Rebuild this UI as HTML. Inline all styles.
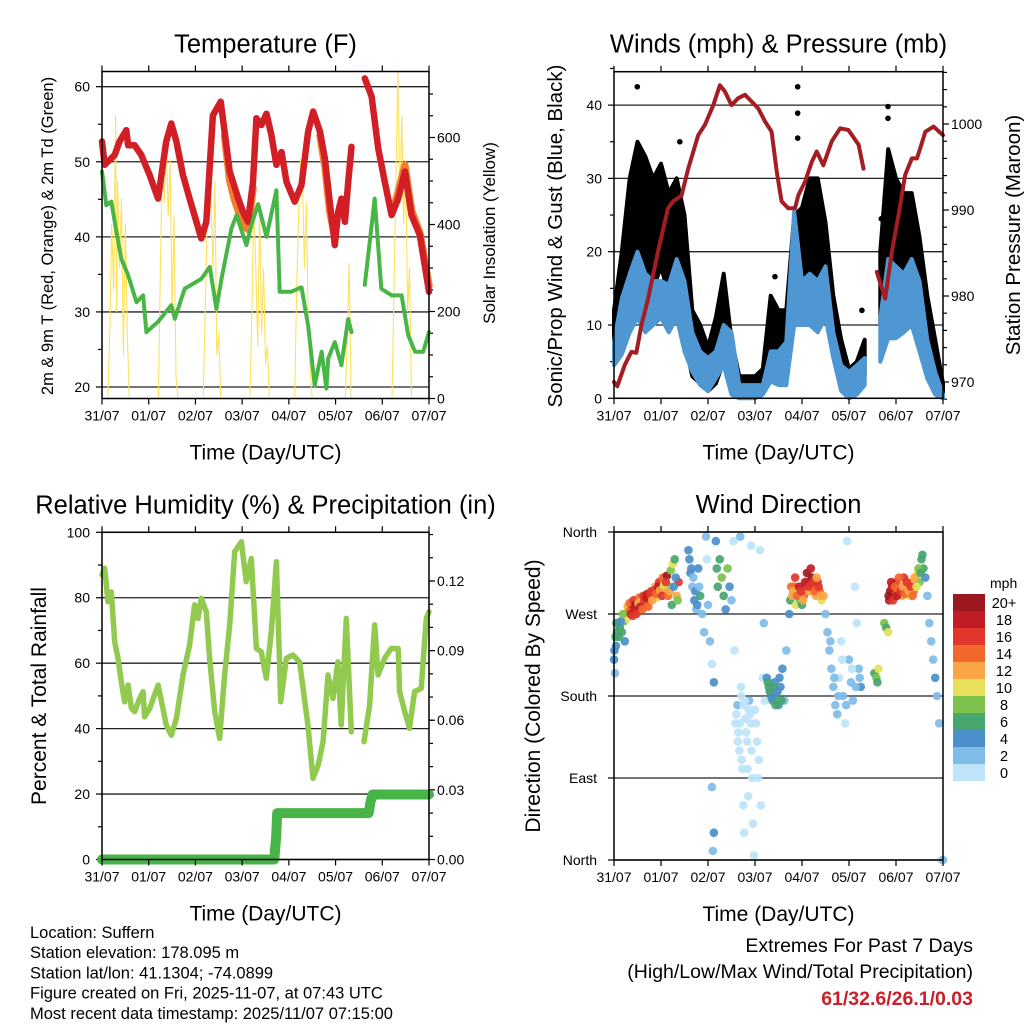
<!DOCTYPE html>
<html><head><meta charset="utf-8">
<style>
html,body{margin:0;padding:0;background:#fff;}
svg{display:block;font-family:"Liberation Sans",sans-serif;}
</style></head>
<body>
<svg id="fig" width="1024" height="1024" viewBox="0 0 1024 1024" xmlns="http://www.w3.org/2000/svg"></svg>
<script>
// ---------- DATA ----------
const dayLabels=["31/07","01/07","02/07","03/07","04/07","05/07","06/07","07/07"];
const t2Hours=[0,1.4,6.5,9,12.5,13.4,16.8,20.2,24.5,28.8,33,35.6,38.2,41.6,45,48.5,51,53.6,57,61,63,65.6,70,72.5,75,77.6,79.3,81.9,84.5,87,89.6,92.2,94.8,99,102.5,105.9,108.5,112,114.5,117,119.6,121.3,123,124.8,126.5,128.2,null,135,138.5,141.9,145.3,148.8,152.2,155.6,159,163.3,168];
const t2Vals=[52.7,49.6,50.9,52.7,54.2,52.2,52.2,50.9,48.2,45.1,52.7,55.1,52.7,48.2,45.1,42,39.8,42,56.2,58,54,48.7,45.1,43.3,42,47.3,55.8,54.9,56.4,53.6,49.6,51.3,47.3,44.7,46.9,54,56.7,54,50.4,44.7,38.9,43.3,45.1,42,47.3,52,null,61.1,58.7,51.8,47.3,42.9,45.1,48.7,42.9,40.2,32.7];
const t9Hours=[63,65.6,68,70,72.5,75,77.6,null,112,114.5,117,119.6,null,150,152.2,155.6,159,163.3,168];
const t9Vals=[53.5,47.5,45,43.5,41.5,41,46.5,null,53.5,49.5,43.5,40,null,44,46,49.5,43.5,40.5,33.5];
const tdHours=[0,2.2,4.8,7.4,9.9,13.4,17.7,21.1,22.8,28.8,35.6,37.4,42.5,51,55.4,58.8,61.4,66.5,69.1,74.2,76.8,80.2,84.5,89.6,91.3,97.3,102.5,105.9,109.3,112.8,115.3,116.2,119.6,123,126.5,128.2,null,135,140.1,143.5,148.8,153.9,157.3,160.8,165,168];
const tdVals=[48.7,44.2,44.7,40.7,37.1,34.9,31.3,32.2,27.3,28.7,30.9,29.1,33.1,34.4,36,30.4,34.4,41.1,42.9,38.9,41.6,44.4,40,46.2,32.7,32.7,33.3,28.2,20.2,24.7,19.8,23.8,26,22.9,29.1,27.3,null,33.6,45.1,33.1,32.2,32.2,26.9,24.7,24.7,27.3];
const solHours=[3,4,5,6,7,7.5,8,9,10,11,12,13,14,29,30,31,32,33,34,35,36,37,38,39,52,53,54,55,56,57,58,59,60,61,76,77,78,79,80,81,82,83,84,85,86,99,100,101,102,103,104,105,106,107,108,125,126,127,128,149,150,151,152,153,154,155,156,157,158,159];
const solVals=[0,150,400,250,650,200,500,300,460,100,400,150,0,0,300,550,450,590,420,550,200,420,50,0,0,200,400,535,450,300,500,100,150,0,0,200,450,300,120,430,150,300,80,120,0,0,250,420,550,500,300,450,150,60,0,0,150,310,0,0,250,500,750,450,650,400,550,200,300,0];
const windHours=[0,4,8,12,16,20,24,28,32,36,40,44,48,52,56,60,64,68,72,76,80,84,88,92,96,100,104,108,112,116,120,124,128,132,136,140,144,148,152,156,160,164,168];
const windLo=[4.5,6,9,11,9,10,11,9,11,6.4,3.6,1.8,1,2.7,4.5,0.5,0,0,0,0.5,2.3,1.8,1.8,10,10,10,9,11,5.5,1,0,0.5,1.8,null,5,8.2,8.2,9,10,6.4,2.7,0.5,0];
const windHi=[7.7,13.6,17,20,17,16,16,15.5,19,16,9,6.4,5.5,6.4,10,9,1.8,1.8,1.8,1.8,6.4,6.4,7.7,25.5,16,17,16,18,9,4.5,3.6,4.5,5.5,null,11,19,18,17,19,16,8,3.6,0.5];
const gustLo=[5,10,15,16,15,15,18,14,12,8,3,2,1,2,5,2,1,1,1,1,4,4,4,12,14,15,14,12,7,2,1,2,3,null,10,16,16,15,14,10,6,2,0];
const gustHi=[12,20,30,35,33,30,32,28,30,25,12,10,7,11,17,8,3,3,3,4,14,12,12,25,26,30,30,24,14,8,4,5,8,null,20,34,30,28,28,22,14,8,2];
const gustOutHours=[11.9,93.8,93.8,93.8,139.9,139.9,126.6,82.2,136.5,33.6];
const gustOutVals=[42.5,42.5,38.9,35.5,39.8,38.2,12,16.6,24.5,35];
const presHours=[0,1.7,5.5,8.9,11.4,14,17.4,22.5,27.6,30.2,34.5,37.9,43,46.4,50.7,54.1,56.6,60,63.4,66.9,70.3,73.7,77.1,80.5,83.1,85.6,89,92.4,94.1,97.6,101,103.5,106.9,111.2,115.5,119.7,124.9,127.4,null,134.2,138.5,141.9,145.3,148.7,152.1,154.7,159,163.2,168];
const presVals=[970,969.5,972,973.5,973.4,976.6,979.7,985.2,990.2,991,991.7,994.8,998.7,999.9,1002.2,1004.5,1003.8,1002.2,1003,1003.4,1002.6,1001.8,1000.3,999.1,994.5,991,990.2,990.2,991.7,993.3,995.6,996.8,995.2,998,999.5,999.3,997.6,994.8,null,982.8,979.7,985.2,989.4,994.1,996,996,999.1,999.7,998.7];
const rhHours=[0,1.4,3.1,4.8,6.5,8.2,9.9,11.6,13.4,15.1,16.8,19.3,21.1,21.9,24.5,28.8,31.3,33,35.6,38.2,41.6,45,47.6,49.3,51,53.6,55.3,57.9,60.4,63,65.6,68.2,71.6,74.1,76.7,79.3,81.8,84.4,87,89.6,91.8,94.7,98.1,101.5,105.8,108.4,111,113.6,116.1,118.7,121.2,122.9,125.5,128.1,null,134.6,137.5,139.2,140.1,141.8,145.2,148.6,152.1,152.9,155.5,158,160.6,164,166.6,168];
const rhVals=[87,89,78.8,81.8,66.6,61.5,54.3,48.2,53.3,46.2,45.2,49.2,51.3,43.6,46.2,53.3,46.2,41.1,38,43.1,56.4,65.5,77.8,73.7,79.8,75.7,61.5,45.2,37,56.4,71.7,94.1,97.1,84.9,92,64.5,63.5,55.4,69.6,91,48.2,61.5,62.5,60.4,41.1,24.8,28.8,36,56.4,49.2,60.4,41.1,73.7,39,null,36,47.2,63.5,71.7,56.4,61.5,64.5,64.5,51.3,45.2,40.1,51.3,52.3,73.7,75.7];
const prHours=[0,88.5,89,89.5,90,132,137,138,139,168];
const prVals=[0,0,0.005,0.01,0.02,0.02,0.02,0.025,0.028,0.028];
const wdHours=[0,0.5,1,1.5,2,3,4,5,5.5,6,7,8,9,10,11,12,13,14,15,16,17,18,19,20,21,22,23,24,25,26,27,28,29,30,31,32,33,38,39,40,41,42,43,44,45,46,47,47.5,48,49,50,51,52,52.5,53,54,55,56,57,58,59,60,61,61.5,62,63,63.5,64,65,65.5,66,66.5,67,68,68.5,69,70,70.5,71,71.5,72,73,74,75,76,76.5,77,64.5,70,74.5,50.5,51,50,78,79,80,81,82,83,84,85,86,87,88,89.5,90,91,92,93,94,95,96,97,98,99,100,101,102,103,104,105,106,107,108,109,110,111,112,113,114,115,116,117,118,119,120,121,122,123,124,125,126,133,134,134.5,135,138,139,140,140.5,141,142,143,144,145,146,147,148,149,150,151,152,153,154,155,156,157,158,159,160,161,162,163,164,165,166,167,168,
6.5,7.5,8.5,9.5,10.5,11.5,12.5,13.5,14.5,15.5,16.5,17.5,18.5,19.5,20.5,21.5,22.5,23.5,24.5,25.5,26.5,27.5,28.5,29.5,30.5,31.5,32.5,0.2,0.8,1.2,2.5,3.5,4.5,
90.5,91.5,92.5,93.5,94.5,95.5,96.5,97.5,98.5,99.5,100.5,101.5,102.5,103.5,104.5,105.5,
140.2,141.5,142.5,143.5,144.5,145.5,146.5,147.5,148.5,149.5,150.5,151.5,152.5,153.5,154.5,155.5,156.5,157.5,
78.5,79.5,80.5,81.5,82.5,83.5,84.5,85.5,
62.5,63.2,64.2,65.2,66.2,67.5,68.2,69.5,70.2,72.5,73.5,64.8,66.8,68.8,
38.5,39.5,40.5,41.5,42.5,43.5,110.5,112.5,114.5,116.5,118.5,121.5,123.5,125.5];
const wdDirs=[220,205,235,250,260,255,250,262,240,270,278,282,275,285,280,275,288,284,290,280,292,285,295,290,300,288,305,298,310,295,312,300,318,325,330,290,305,340,315,300,285,275,320,290,270,250,355,330,280,240,215,195,350,320,300,330,310,290,275,320,300,285,350,230,150,170,140,120,180,100,60,30,155,130,70,175,150,90,40,5,165,130,110,60,200,260,175,355,345,340,10,30,80,200,190,185,175,195,180,170,190,210,175,230,270,285,290,300,280,295,285,280,290,300,305,295,310,300,290,305,295,285,290,270,250,230,210,190,170,160,200,240,180,150,350,220,195,175,300,260,210,190,205,200,195,210,260,255,250,285,295,300,290,305,295,300,290,310,295,300,290,305,295,300,315,305,330,320,310,290,260,240,220,200,180,150,0,0,
265,272,270,268,276,270,282,278,275,285,288,278,292,285,296,292,300,296,290,302,305,290,295,280,300,310,285,230,245,260,245,262,270,
300,295,310,290,300,295,285,305,315,300,320,305,295,310,300,290,
290,305,285,300,290,310,295,300,292,305,295,300,290,310,300,320,315,335,
195,185,178,190,170,185,200,175,
160,130,150,110,170,140,100,160,120,150,90,190,175,165,
330,320,310,295,280,300,240,200,180,220,170,210,190,200];
const wdSpeeds=[4,3,5,6,6,7,6,8,4,10,12,14,17,16,20,15,14,13,16,12,18,14,16,18,12,10,16,19,14,12,20,9,8,10,7,13,17,4,5,3,4,3,5,6,3,3,2,1,2,3,1,4,5,6,7,6,8,7,5,9,4,3,1,1,0,2,1,0,1,1,0,1,1,0,1,2,1,0,1,0,1,1,0,1,1,2,1,2,1,1,3,4,3,5,6,4,6,5,7,4,5,4,3,2,4,6,12,15,10,11,8,6,14,16,18,13,20,15,12,17,14,10,12,3,3,2,3,2,2,3,1,1,2,1,1,2,3,2,1,1,2,4,7,8,7,10,8,7,10,18,20,19,16,17,15,14,13,16,12,14,11,13,15,12,10,8,6,7,4,3,2,3,2,4,3,2,1,2,
11,15,18,16,19,17,13,18,15,17,19,14,16,13,17,15,18,12,16,10,17,14,12,6,5,4,9,5,6,7,6,5,8,
14,13,17,15,19,16,12,18,20,16,19,17,14,12,16,13,
20,18,17,15,18,14,16,12,15,17,13,16,14,12,11,8,7,6,
6,7,5,6,7,4,5,6,
1,0,1,1,0,1,0,1,1,0,1,1,1,0,
4,5,3,4,5,3,2,3,2,1,2,1,3,3];
const cbLabels=["20+","18","16","14","12","10","8","6","4","2","0"];
const cbColors=["#9b191e","#c01d24","#e0362b","#f2672c","#f9a746","#e8e05a","#7cc24d","#47a56e","#4b8fcb","#80bce8","#bde4f8"];

// ---------- HELPERS ----------
const NS="http://www.w3.org/2000/svg";
const svg=document.getElementById('fig');
function el(tag,attrs,parent){const e=document.createElementNS(NS,tag);for(const k in attrs)e.setAttribute(k,attrs[k]);(parent||svg).appendChild(e);return e;}
function txt(s,x,y,size,anchor,name,extra){const t=el('text',Object.assign({x:x,y:y,'font-size':size,'text-anchor':anchor||'middle',fill:'#000'},extra||{}));t.textContent=s;


return t;}
function xs(P,h){return P.x0+h/168*(P.x1-P.x0);}
function segPaths(hours,vals,fx,fy){const segs=[];let cur=[];for(let i=0;i<hours.length;i++){if(hours[i]===null||vals[i]===null){if(cur.length)segs.push(cur);cur=[];continue;}cur.push([fx(hours[i]),fy(vals[i])]);}if(cur.length)segs.push(cur);return segs.map(s=>'M'+s.map(p=>p[0].toFixed(1)+','+p[1].toFixed(1)).join('L')).join(' ');}
function line(hours,vals,fx,fy,color,w,name,dash){const p=el('path',{d:segPaths(hours,vals,fx,fy),fill:'none',stroke:color,'stroke-width':w,'stroke-linejoin':'round','stroke-linecap':'round'});if(dash)p.setAttribute('stroke-dasharray',dash);


return p;}
function band(hours,lo,hi,fx,fy,color,name){let segs=[],cur=[];for(let i=0;i<hours.length;i++){if(lo[i]===null){if(cur.length)segs.push(cur);cur=[];continue;}cur.push(i);}if(cur.length)segs.push(cur);let d='';segs.forEach(s=>{const top=s.map(i=>fx(hours[i]).toFixed(1)+','+fy(hi[i]).toFixed(1));const bot=s.slice().reverse().map(i=>fx(hours[i]).toFixed(1)+','+fy(lo[i]).toFixed(1));d+='M'+top.join('L')+'L'+bot.join('L')+'Z ';});const p=el('path',{d:d,fill:color,stroke:color,'stroke-width':4,'stroke-linejoin':'round'});


return p;}
function frame(P,name,title){
  const r=el('rect',{x:P.x0,y:P.y0,width:P.x1-P.x0,height:P.y1-P.y0,fill:'none',stroke:'#000','stroke-width':1.5});
  
  
  for(let d=0;d<=7;d++){const x=P.x0+d*(P.x1-P.x0)/7;
    const t=el('path',{d:`M${x},${P.y1}V${P.y1+6}M${x},${P.y0}V${P.y0-6}`,stroke:'#000','stroke-width':1.2});
    
    
    txt(dayLabels[d],x,P.y1+22,14,'middle','x-tick-label');}
  txt('Time (Day/UTC)',(P.x0+P.x1)/2,P.y1+61,21,'middle','x-axis-title');
  txt(title,(P.x0+P.x1)/2,P.y0-19,25.5,'middle','chart-title');
}
function hgrid(P,y){const g=el('line',{x1:P.x0,x2:P.x1,y1:y,y2:y,stroke:'#222','stroke-width':1.3});

}
function ytick(x,y,len){const t=el('line',{x1:x,x2:x+len,y1:y,y2:y,stroke:'#000','stroke-width':1.2});

}
function vtitle(s,x,y,size,name){txt(s,x,y,size,'middle',name,{transform:`rotate(-90 ${x} ${y})`});}

// ---------- PANEL 1: TEMPERATURE ----------
const P1={x0:102,x1:429,y0:71.5,y1:398.5};
const yT=v=>387-(v-20)*(387-86.7)/40;
const ySol=v=>398.5-v*87/200;
const x1f=h=>xs(P1,h);
[20,30,40,50,60].forEach(v=>{hgrid(P1,yT(v));ytick(P1.x0-6,yT(v),6);txt(String(v),P1.x0-12,yT(v)+5,14,'end','y-tick-label');});
[25,35,45,55].forEach(v=>ytick(P1.x0-4,yT(v),4));
[0,200,400,600].forEach(v=>{ytick(P1.x1,ySol(v),6);txt(String(v),P1.x1+8,ySol(v)+5,14,'start','y2-tick-label');});
[50,100,150,250,300,350,450,500,550,650,700].forEach(v=>ytick(P1.x1,ySol(v),4));
line(solHours,solVals,x1f,ySol,'#fde25a',1.1,'solar-line');
line(t9Hours,t9Vals,x1f,yT,'#f47e2e',7.5,'temp-9m-line');
line(t2Hours,t2Vals,x1f,yT,'#d21f26',6.5,'temp-2m-line');
line(tdHours,tdVals,x1f,yT,'#48b547',4,'dewpoint-line','3 1.2');
frame(P1,'temperature','Temperature (F)');
vtitle('2m & 9m T (Red, Orange) & 2m Td (Green)',53,236,16.5,'y-axis-title');
vtitle('Solar Insolation (Yellow)',495,233,17,'y2-axis-title');

// ---------- PANEL 2: WINDS ----------
const P2={x0:614,x1:943,y0:71.7,y1:398.3};
const yW=v=>398.3-v*7.33;
const yP=v=>382-(v-970)*(382-124)/30;
const x2f=h=>xs(P2,h);
[0,10,20,30,40].forEach(v=>{hgrid(P2,yW(v));ytick(P2.x0-6,yW(v),6);txt(String(v),P2.x0-12,yW(v)+5,14,'end','y-tick-label');});
[5,15,25,35,45].forEach(v=>ytick(P2.x0-4,yW(v),4));
[970,980,990,1000].forEach(v=>{ytick(P2.x1,yP(v),6);txt(String(v),P2.x1+8,yP(v)+5,14,'start','y2-tick-label');});
for(let v=968;v<=1006;v+=2){if(v%10)ytick(P2.x1,yP(v),4);}
band(windHours,gustLo,gustHi,x2f,yW,'#000','gust-band');
gustOutHours.forEach((h,i)=>{const c=el('circle',{cx:x2f(h),cy:yW(gustOutVals[i]),r:2.8,fill:'#000'});

});
band(windHours,windLo,windHi,x2f,yW,'#4f97d2','wind-band');
line(presHours,presVals,x2f,yP,'#a31d22',4,'pressure-line');
frame(P2,'winds','Winds (mph) & Pressure (mb)');
vtitle('Sonic/Prop Wind & Gust (Blue, Black)',562,236,20.5,'y-axis-title');
vtitle('Station Pressure (Maroon)',1020,235,20.5,'y2-axis-title');

// ---------- PANEL 3: RH ----------
const P3={x0:102,x1:429,y0:532.3,y1:859.5};
const yRH=v=>859.5-v*3.272;
const yPr=v=>859.5-v*2321;
const x3f=h=>xs(P3,h);
[0,20,40,60,80,100].forEach(v=>{hgrid(P3,yRH(v));ytick(P3.x0-6,yRH(v),6);txt(String(v),P3.x0-12,yRH(v)+5,14,'end','y-tick-label');});
[10,30,50,70,90].forEach(v=>ytick(P3.x0-4,yRH(v),4));
[0,0.03,0.06,0.09,0.12].forEach(v=>{ytick(P3.x1,yPr(v),6);txt(v.toFixed(2),P3.x1+8,yPr(v)+5,14,'start','y2-tick-label');});
for(let v=0.01;v<0.14;v+=0.01){ytick(P3.x1,yPr(v),4);}
line(rhHours,rhVals,x3f,yRH,'#92c94f',5.5,'rh-line');
line(prHours,prVals,x3f,yPr,'#47b448',10,'precip-line');
frame(P3,'humidity','Relative Humidity (%) & Precipitation (in)');
vtitle('Percent & Total Rainfall',46,696,21,'y-axis-title');

// ---------- PANEL 4: WIND DIRECTION ----------
const P4={x0:614,x1:943,y0:532,y1:860};
const yD=v=>860-v*(860-532)/360;
const x4f=h=>xs(P4,h);
[[0,'North'],[90,'East'],[180,'South'],[270,'West'],[360,'North']].forEach(a=>{hgrid(P4,yD(a[0]));ytick(P4.x0-6,yD(a[0]),6);txt(a[1],P4.x0-17,yD(a[0])+5,14,'end','y-tick-label');});
wdHours.forEach((h,i)=>{const s=wdSpeeds[i];const bin=Math.min(10,Math.floor(s/2));const c=el('circle',{cx:x4f(h),cy:yD(wdDirs[i]),r:4.3,fill:cbColors[10-bin],'fill-opacity':0.92});

});
frame(P4,'wind-direction','Wind Direction');
vtitle('Direction (Colored By Speed)',540,696,21,'y-axis-title');
txt('mph',990,588,14,'start','colorbar-title');
cbLabels.forEach((l,i)=>{const y=594+i*17;const r=el('rect',{x:953,y:y,width:32,height:17,fill:cbColors[i]});


txt(l,1004,y+14,14.5,'middle','colorbar-label');});

// ---------- FOOTER ----------
['Location: Suffern','Station elevation: 178.095 m','Station lat/lon: 41.1304; -74.0899','Figure created on Fri, 2025-11-07, at 07:43 UTC','Most recent data timestamp: 2025/11/07 07:15:00'].forEach((s,i)=>txt(s,30,938+i*20.2,16.5,'start','station-info-line'));
txt('Extremes For Past 7 Days',973,952,19.5,'end','extremes-title');
txt('(High/Low/Max Wind/Total Precipitation)',973,978,19.5,'end','extremes-subtitle');
txt('61/32.6/26.1/0.03',973,1005,19.5,'end','extremes-values',{fill:'#c9202a','font-weight':'bold'});
</script>
</body></html>
